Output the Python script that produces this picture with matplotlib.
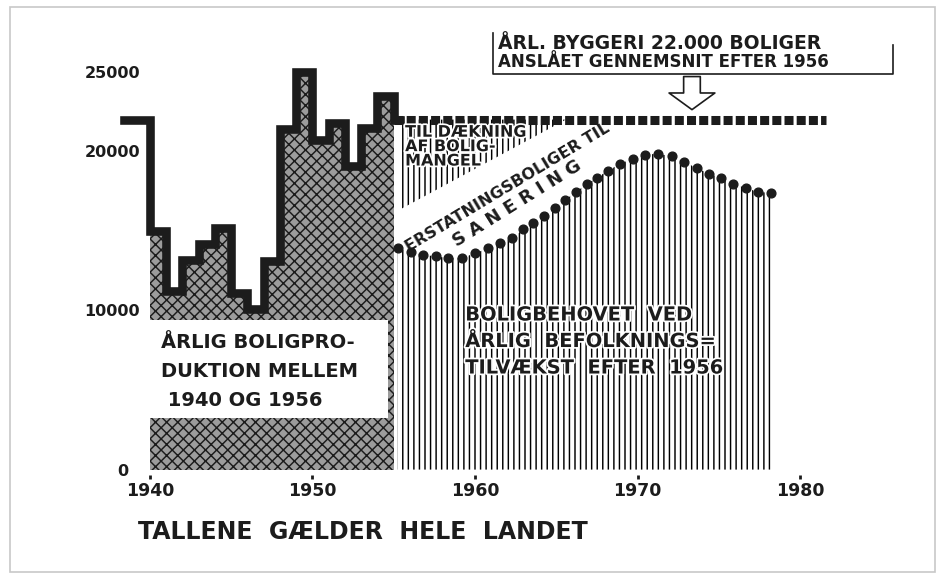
import matplotlib
matplotlib.use("Agg")
import matplotlib.pyplot as plt
import matplotlib.patheffects as pe
from matplotlib.patches import Rectangle

# Årlig boligproduktion (1939 kun som linje, fyldt fra 1940)
prod_years = [1939, 1940, 1941, 1942, 1943, 1944, 1945, 1946, 1947,
              1948, 1949, 1950, 1951, 1952, 1953, 1954]
prod_values = [22000, 15000, 11200, 13200, 14200, 15200, 11100, 10100, 13100,
               21400, 25000, 20700, 21800, 19100, 21500, 23500]

# Boligbehov ved befolkningstilvækst efter 1956 (prikkerne)
need_years = [1955.25, 1956.05, 1956.8, 1957.6, 1958.35, 1959.2, 1960.0, 1960.8,
              1961.55, 1962.3, 1962.95, 1963.55, 1964.25, 1964.9, 1965.55, 1966.2,
              1966.9, 1967.5, 1968.2, 1968.9, 1969.7, 1970.45, 1971.25, 1972.1,
              1972.85, 1973.65, 1974.4, 1975.15, 1975.9, 1976.7, 1977.4, 1978.2]
need_values = [13900, 13700, 13500, 13400, 13300, 13300, 13600, 13900,
               14250, 14550, 15100, 15500, 15950, 16450, 16950, 17450,
               17950, 18350, 18800, 19200, 19550, 19800, 19850, 19700,
               19350, 18950, 18600, 18300, 17950, 17700, 17450, 17400]

# anslået gennemsnit efter 1956
avg_years = [1955, 1981.6]
avg_values = [22000, 22000]

# kile "til dækning af boligmangel" (undergrænse)
mangel_years = [1955.3, 1965.6]
mangel_lower = [16300, 22000]

yticks = [0, 10000, 20000, 25000]
xticks = [1940, 1950, 1960, 1970, 1980]

ink = "#1c1c1c"
plt.rcParams["font.family"] = ["DejaVu Sans"]
plt.rcParams["font.weight"] = "bold"
plt.rcParams["hatch.linewidth"] = 1.05
plt.rcParams["hatch.color"] = ink

fig = plt.figure(figsize=(9.44, 5.79), dpi=100)
W, H = 944, 579
ax = fig.add_axes([142 / W, 1 - 475 / H, (900 - 142) / W, (475 - 20) / H])
ax.set_xlim(1939.51, 1986.15)
ax.set_ylim(-340, 28260)
for s in ax.spines.values():
    s.set_visible(False)

# produktion
fx = prod_years[1:] + [1955]
fy = prod_values[1:] + [prod_values[-1]]
ax.fill_between(fx, 0, fy, step="post", facecolor="#9c9c9c",
                hatch="xxx", linewidth=0, zorder=1)
sx = [1938.4] + prod_years[1:] + [1955, 1955.4]
sy = prod_values + [avg_values[0], avg_values[0]]
ax.step(sx, sy, where="post", color=ink, lw=6.2, solid_joinstyle="miter",
        clip_on=False, zorder=3)

# behov: lodrette streger + prikker
ax.fill_between(need_years, 0, need_values, facecolor="none", hatch="|||",
                linewidth=0, zorder=1)
ax.plot(need_years, need_values, "o", color=ink, ms=6.3, zorder=3)

# boligmangel-kile
ax.fill_between(mangel_years, mangel_lower, 22000, facecolor="none",
                hatch="|||", linewidth=0, zorder=1)

# stiplet gennemsnit
ax.plot(avg_years, avg_values, color=ink, lw=6.5, linestyle=(0, (1.0, 0.35)),
        dash_capstyle="butt", zorder=3)

# hvid boks med tekst over produktionen
ax.add_patch(Rectangle((1939.88, 3250), 1954.65 - 1939.88, 9400 - 3250,
                       facecolor="white", edgecolor="none", zorder=4))
ax.text(1940.7, 6150, "ÅRLIG BOLIGPRO-\nDUKTION MELLEM\n 1940 OG 1956",
        fontsize=14, color=ink, va="center", ha="left", linespacing=1.65,
        zorder=5)

halo = [pe.withStroke(linewidth=2.5, foreground="white")]
ax.text(1959.4, 8050, "BOLIGBEHOVET  VED\nÅRLIG  BEFOLKNINGS=\nTILVÆKST  EFTER  1956",
        fontsize=14, color=ink, va="center", ha="left", linespacing=1.5,
        path_effects=halo, zorder=5)
ax.text(1955.7, 20300, "TIL DÆKNING\nAF BOLIG-\nMANGEL", fontsize=11.5,
        color=ink, va="center", ha="left", linespacing=0.95,
        path_effects=halo, zorder=5)
ax.text(1962.0, 17750, "ERSTATNINGSBOLIGER TIL", fontsize=11.5, color=ink,
        rotation=31, ha="center", va="center", rotation_mode="anchor", zorder=5)
ax.text(1962.6, 16700, "S A N E R I N G", fontsize=13, color=ink,
        rotation=32, ha="center", va="center", rotation_mode="anchor", zorder=5)

# forklaring øverst med pil
ax.text(1961.4, 26800, "ÅRL. BYGGERI 22.000 BOLIGER", fontsize=13.5, color=ink,
        ha="left", va="center")
ax.text(1961.4, 25650, "ANSLÅET GENNEMSNIT EFTER 1956", fontsize=12, color=ink,
        ha="left", va="center")
ax.plot([1961.1, 1961.1, 1985.7, 1985.7], [27450, 24880, 24880, 26700],
        color=ink, lw=1.2, clip_on=False)
ax.annotate("", xy=(1973.35, 22450), xytext=(1973.35, 24880),
            arrowprops=dict(arrowstyle="simple,head_width=3.3,head_length=1.2,tail_width=1.2",
                            fc="white", ec=ink, lw=1.2))

ax.set_yticks(yticks)
ax.set_yticklabels(["0  "] + [str(v) for v in yticks[1:]])
ax.set_xticks(xticks)
ax.tick_params(axis="y", length=0, pad=1.5, labelsize=11.5, labelcolor=ink)
ax.tick_params(axis="x", length=3, width=2, color=ink, pad=2,
               labelsize=12.5, labelcolor=ink)

fig.text(138 / W, 1 - 532 / H, "TALLENE  GÆLDER  HELE  LANDET", fontsize=17,
         color=ink, ha="left", va="center")

# ramme om tegningen
fig.patches.append(Rectangle((10 / W, 7 / H), 925 / W, 565 / H,
                             transform=fig.transFigure, fill=False,
                             edgecolor="#c8c8c8", lw=1.2))

fig.savefig("out.png", dpi=100, facecolor="white")
